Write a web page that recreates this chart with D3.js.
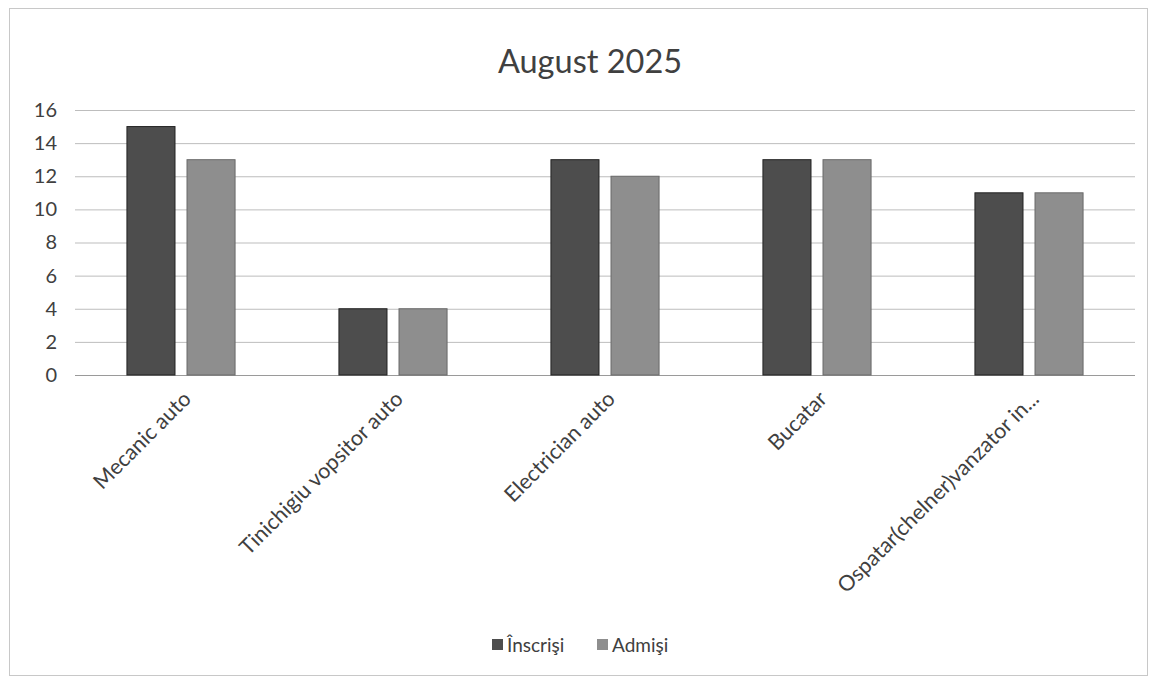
<!DOCTYPE html>
<html><head><meta charset="utf-8">
<script src="https://cdn.jsdelivr.net/npm/d3@7"></script>
<style>body{margin:0;background:#fff}svg{display:block;font-family:Lato,"Open Sans",sans-serif}</style>
</head><body>
<script>
const categories = ["Mecanic auto","Tinichigiu vopsitor auto","Electrician auto","Bucatar","Ospatar(chelner)vanzator in..."];
const seriesNames = ["Înscrişi","Admişi"];
const inscrisi = [15,4,13,13,11];
const admisi = [13,4,12,13,11];
const yTicks = [0,2,4,6,8,10,12,14,16];
const title = "August 2025";

const W=1152,H=680;
const colors={"Înscrişi":"#4d4d4d","Admişi":"#8e8e8e"};
const strokes={"Înscrişi":"#222","Admişi":"#6a6a6a"};
const svg=d3.select("body").append("svg").attr("width",W).attr("height",H);
svg.append("rect").attr("x",9.5).attr("y",8.5).attr("width",1138).attr("height",667).attr("fill","#fff").attr("stroke","#c8c8c8");

const m={left:75,right:1135,top:110,bottom:375};
const x=d3.scaleBand().domain(categories).range([m.left,m.right]).paddingInner(0.49).paddingOuter(0.245);
const xs=d3.scaleBand().domain(seriesNames).range([0,x.bandwidth()]).paddingInner(0.2);
const y=d3.scaleLinear().domain([0,16]).range([m.bottom,m.top]);

const g=svg.append("g");
g.selectAll(".grid").data(yTicks).join("line").attr("x1",m.left).attr("x2",m.right)
 .attr("y1",d=>y(d)+0.5).attr("y2",d=>y(d)+0.5).attr("stroke",d=>d===0?"#9a9a9a":"#bdbdbd").attr("stroke-width",1);

const yAxis=d3.axisLeft(y).tickValues(yTicks).tickSize(0).tickPadding(0);
const ya=svg.append("g").attr("transform",`translate(${m.left-18},0)`).call(yAxis);
ya.select(".domain").remove();
ya.selectAll("text").attr("font-size",20).attr("fill","#404040").attr("font-family","Lato,sans-serif");

const data=categories.map((c,i)=>({cat:c,vals:[{s:seriesNames[0],v:inscrisi[i]},{s:seriesNames[1],v:admisi[i]}]}));
const grp=svg.append("g").selectAll("g").data(data).join("g").attr("transform",d=>`translate(${x(d.cat)},0)`);
grp.selectAll("rect").data(d=>d.vals).join("rect")
 .attr("x",d=>xs(d.s)).attr("width",xs.bandwidth())
 .attr("y",d=>y(d.v)).attr("height",d=>y(0)-y(d.v))
 .attr("fill",d=>colors[d.s]).attr("stroke",d=>strokes[d.s]).attr("stroke-width",1);

const xAxis=d3.axisBottom(x).tickSize(0).tickPadding(0);
const xa=svg.append("g").attr("transform",`translate(6,${m.bottom+20})`).call(xAxis);
xa.select(".domain").remove();
xa.selectAll("text").attr("font-size",21.5).attr("fill","#404040").attr("text-anchor","end")
 .attr("dy","0.35em").attr("transform","rotate(-45)").attr("font-family","Lato,sans-serif");

svg.append("text").attr("x",590).attr("y",73).attr("text-anchor","middle").attr("font-size",32.5).attr("fill","#404040").text(title);

const leg=svg.append("g").attr("transform","translate(492,645)");
seriesNames.forEach((s,i)=>{
  const gg=leg.append("g").attr("transform",`translate(${i===0?0:105},0)`);
  gg.append("rect").attr("x",0).attr("y",-6).attr("width",11).attr("height",11).attr("fill",colors[s]);
  gg.append("text").attr("x",15).attr("y",0).attr("dy","0.35em").attr("font-size",19).attr("fill","#404040").text(s);
});
</script>
</body></html>
